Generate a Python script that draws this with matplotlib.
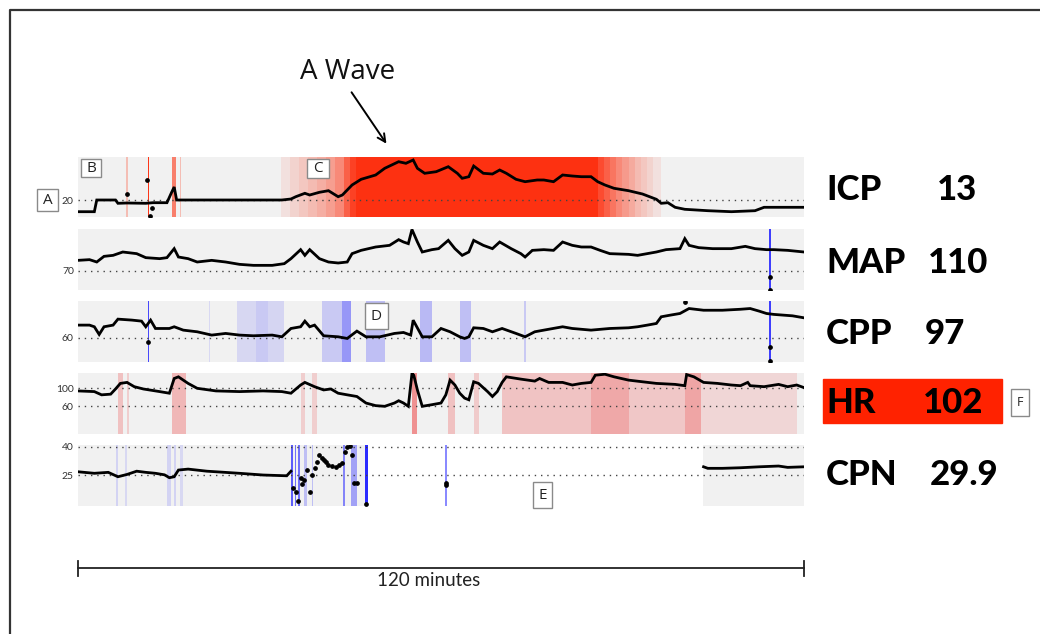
"""
Multi-channel neuro-monitoring strip chart (ICP, MAP, CPP, HR, CPN) over 120 minutes,
with red/blue alarm shading behind each trace and current values on the right.
"""

import matplotlib

matplotlib.use("Agg")

import matplotlib.pyplot as plt
from matplotlib.patches import Rectangle
from matplotlib.transforms import blended_transform_factory
import numpy as np

W, H = 1040, 634
GRAY = "#f1f1f1"
RED = "#ff2200"
HR_RED = "#ee3333"
BLUE = "#2b2bff"
LABEL_FONT = ["Lato", "DejaVu Sans"]

# ---- data (time in minutes, values in channel units) ----
ICP_T = [0, 2.7, 3.1, 6.2, 6.6, 8.1, 11.2, 12.4, 14.7, 15.5, 15.9, 16.3, 17.4, 33.7, 35.2,
         36.0, 37.5, 38.3, 39.9, 41.4, 43.0, 43.7, 45.3, 46.8, 49.2, 50.7, 53.0, 54.2, 55.4,
         56.1, 57.3, 59.2, 61.2, 62.7, 63.5, 64.6, 65.4, 67.0, 68.5, 69.7, 70.8, 72.4, 73.9,
         75.9, 77.0, 78.6, 80.1, 81.7, 83.2, 84.8, 85.9, 87.1, 88.6, 91.0, 93.3, 95.6, 96.4,
         97.5, 98.7, 100.3, 104.1, 108.0, 111.9, 113.4, 120]
ICP_V = [8.3, 8.3, 20, 20, 16.7, 17, 16.7, 17.3, 17.3, 28, 33, 20, 20, 20, 21,
         23.3, 26.7, 25, 27.7, 29.3, 23.3, 25, 35, 40.7, 45, 51.7, 58.3, 56.7, 60,
         51.7, 46.7, 48.3, 53.3, 46.7, 41.7, 43.3, 54, 46.7, 46, 50, 46.7, 40.7, 38.3,
         40, 40, 38.3, 45, 44, 43.3, 43.3, 38.3, 35, 31.7, 29.3, 26, 20.7, 16.7,
         17.3, 12.7, 10.7, 9.3, 8.3, 9.3, 12.7, 12.7]
ICP_OUT_T = [8.1, 11.4, 11.9, 12.2]
ICP_OUT_V = [25.7, 40, 3.8, 12]

MAP_T = [0, 1.9, 3.1, 4.3, 5.8, 7.4, 9.7, 11.2, 13.5, 14.7, 15.9, 16.6, 18.2, 19.7, 22.1,
         24.4, 26.7, 29.0, 32.1, 34.1, 35.2, 36.8, 37.5, 38.3, 39.9, 41.4, 43.0, 44.5, 45.3,
         46.8, 49.2, 51.5, 53.0, 53.8, 54.6, 55.2, 56.1, 56.9, 58.5, 59.6, 61.2, 62.3, 63.5,
         64.6, 65.4, 67.0, 68.5, 69.7, 71.6, 73.2, 73.9, 75.1, 77.0, 78.6, 80.1, 81.7, 83.2,
         84.8, 86.3, 87.9, 91.0, 92.5, 95.6, 97.2, 99.5, 100.3, 101.0, 102.6, 104.9, 108.0,
         110.3, 111.9, 113.8, 115.0, 117.3, 120]
MAP_V = [91.3, 92.7, 88, 99.3, 101.3, 108, 104.7, 96.7, 94.7, 96.7, 114.7, 98, 94.7, 88, 91.3,
         88, 83.3, 81.3, 81.3, 84.7, 94.7, 112.7, 101.3, 112.7, 94.7, 88, 86, 88, 104.7,
         111.3, 118, 121.3, 132.7, 128, 124.7, 153, 128, 108, 112.7, 114.7, 131.3, 114.7, 101.3,
         108, 131.3, 121.3, 114.7, 128, 114.7, 104.7, 98, 111.3, 112.7, 111.3, 128, 121.3, 118,
         118, 111.3, 104.7, 103.3, 101.3, 108, 112.7, 114.7, 134.7, 121.3, 116.7, 114.7, 114.7,
         119.3, 114.7, 112.7, 112.7, 111.3, 108]
MAP_OUT_T = [114.4, 114.4]
MAP_OUT_V = [58, 33]

CPP_T = [0, 1.9, 2.7, 3.5, 4.3, 5.8, 6.6, 8.9, 10.5, 11.2, 12.0, 12.8, 15.1, 15.9, 17.4,
         19.7, 22.1, 24.4, 26.7, 29.0, 32.1, 33.7, 35.2, 36.8, 37.5, 38.3, 39.1, 40.6, 43.0,
         44.5, 46.1, 47.6, 49.9, 52.3, 53.8, 55.0, 55.4, 56.9, 58.5, 60.0, 61.5, 63.1, 63.9,
         64.6, 65.4, 67.0, 68.5, 70.1, 72.4, 73.9, 75.5, 77.0, 80.1, 81.7, 84.8, 87.9, 91.0,
         92.5, 94.1, 95.6, 96.4, 97.9, 99.5, 101.0, 103.4, 106.5, 109.5, 111.1, 112.6, 113.8,
         115.0, 116.6, 118.1, 120]
CPP_V = [82.2, 82.2, 79.3, 65.8, 79.3, 82.2, 92.7, 91, 89.2, 79.3, 90.9, 76.3, 76.3, 79.3, 73.4,
         70.5, 64.7, 67.6, 64.7, 63.5, 64.7, 61.7, 76.3, 79.3, 89.2, 79.3, 82.2, 63.5, 61.7,
         58.8, 71.7, 61.7, 61.7, 67.6, 69.3, 64.7, 90.9, 61.7, 61.7, 76.3, 70.5, 61.7, 58.8,
         61.7, 77.5, 76.3, 70.5, 76.3, 67.6, 61.7, 70.5, 73.4, 79.3, 76.3, 73.4, 76.3, 77.5,
         79.3, 82.2, 85.1, 96.8, 99.7, 102.6, 111.3, 108.3, 108.3, 110, 111.3, 106.7, 102.6,
         101, 99.7, 98.5, 95]
CPP_OUT_T = [11.6, 100.3, 114.3, 114.3]
CPP_OUT_V = [53, 123, 44, 19]

HR_T = [0, 2.7, 3.9, 5.4, 6.2, 7.0, 8.1, 9.3, 10.8, 13.5, 15.1, 15.9, 16.6, 18.2, 19.7,
        22.8, 26.7, 30.6, 33.7, 35.2, 36.8, 37.5, 39.1, 40.6, 41.8, 43.0, 44.5, 46.1, 47.6,
        49.2, 50.7, 52.3, 53.0, 53.8, 54.6, 55.2, 55.5, 56.1, 56.9, 58.5, 60.0, 60.8, 61.5,
        62.3, 63.1, 63.9, 64.6, 65.4, 66.2, 67.7, 68.5, 69.3, 70.1, 70.8, 73.2, 75.5, 76.3,
        77.8, 80.1, 81.7, 83.2, 84.8, 85.5, 87.1, 88.6, 91.0, 93.3, 95.6, 98.7, 100.3, 100.6,
        101.8, 103.4, 105.7, 108.0, 109.5, 110.7, 111.1, 113.4, 115.8, 117.3, 118.8, 120]
HR_V = [94.2, 92.7, 85.5, 87, 98.5, 110.9, 113.1, 103.6, 98.5, 92.7, 89.1, 121.8, 125.5, 110.9, 100,
        94.2, 92.7, 94.2, 92.7, 89.1, 107.3, 113.1, 103.6, 96.4, 98.5, 89.1, 85.5, 81.8, 67.3,
        61.5, 60, 67.3, 72.4, 67.3, 60, 133, 129, 96.4, 60, 63.6, 67.3, 85.5, 118.2,
        107.3, 89.1, 78.2, 74.5, 114.5, 110.9, 92.7, 81.8, 92.7, 113.1, 125.5, 120.4, 116, 121.8,
        113.1, 113.1, 107.3, 110.9, 113.1, 129.1, 131.3, 125.5, 118.2, 114.5, 110.9, 108.7, 105.8, 130.5,
        125.5, 113.1, 110.9, 107.3, 105.8, 113.1, 105.8, 103.6, 108.7, 103.6, 107.3, 101.5]

CPN_T = [0, 2.7, 5.0, 6.6, 8.1, 9.7, 11.2, 12.8, 14.3, 15.1, 15.9, 16.6, 18.2, 21.3, 22.8,
         26.7, 30.6, 34.5, 35.2, 75.0,
         103.4, 104.1, 106.5, 109.5, 112.6, 115.8, 117.3, 120]
CPN_V = [26.9, 26.1, 26.6, 24.3, 25.5, 27.2, 26.6, 26.1, 25.3, 23.8, 24.3, 27.8, 28.3, 27.2, 26.9,
         26.1, 25.2, 24.8, 27.2, np.nan,
         29.5, 28.7, 28.7, 29, 29.5, 29.9, 29.2, 29.5]
# erratic stretch drawn as loose dots
CPN_OUT_T = [35.6, 36.0, 36.4, 36.8, 37.1, 37.4, 37.9, 38.3, 38.7, 39.1, 39.5, 39.9, 40.3,
             40.6, 41.0, 41.4, 42.0, 42.6, 43.2, 43.7, 44.1, 44.5, 44.9, 45.3, 45.7, 46.1,
             47.6, 60.8, 60.8]
CPN_OUT_V = [18.5, 16.5, 11.5, 23.6, 20.5, 22.7, 27.8, 16.5, 25.3, 28.7, 32.2, 35.6, 34.0,
             32.9, 31.8, 30.4, 29.8, 29.5, 30.2, 31.3, 37.4, 40, 40.5, 35.6, 20.8, 20.8,
             9.8, 20.0, 21.2]
CPN_RECORDED = [(0, 47.8), (103.3, 120)]

# alarm shading: (start min, end min, strength)
ICP_SHADE = [(8.0, 8.3, 0.25), (11.5, 11.8, 0.9), (15.5, 16.2, 0.55), (16.9, 17.1, 0.25),
             (33.5, 35.0, 0.08), (35.0, 36.5, 0.14), (36.5, 38.0, 0.2), (38.0, 39.5, 0.26),
             (39.5, 41.0, 0.32), (41.0, 42.5, 0.4), (42.5, 44.0, 0.5), (44.0, 45.0, 0.7),
             (45.0, 46.0, 0.85), (46.0, 86.0, 0.93), (86.0, 87.0, 0.8), (87.0, 88.0, 0.7),
             (88.0, 89.0, 0.6), (89.0, 90.0, 0.5), (90.0, 91.0, 0.42), (91.0, 92.0, 0.34),
             (92.0, 93.0, 0.26), (93.0, 94.0, 0.2), (94.0, 95.0, 0.14), (95.0, 96.3, 0.08)]
MAP_SHADE = [(114.2, 114.6, 0.9)]
CPP_SHADE = [(11.5, 11.8, 0.85), (21.6, 21.9, 0.12), (26.3, 29.4, 0.13), (29.4, 31.4, 0.2),
             (31.4, 34.1, 0.14), (40.3, 43.7, 0.2), (43.7, 45.1, 0.45), (47.6, 50.7, 0.25),
             (56.5, 58.5, 0.28), (63.1, 65.0, 0.25), (73.8, 74.1, 0.2), (114.2, 114.5, 0.9)]
HR_SHADE = [(6.6, 7.4, 0.25), (8.1, 8.5, 0.18), (15.5, 17.8, 0.3), (36.8, 37.5, 0.18),
            (38.7, 39.5, 0.18), (55.2, 56.1, 0.5), (61.2, 62.3, 0.25), (65.4, 66.2, 0.2),
            (70.1, 84.8, 0.24), (84.8, 91.0, 0.38), (91.0, 100.3, 0.22), (100.3, 103.0, 0.4),
            (103.0, 118.8, 0.14)]
CPN_SHADE = [(6.2, 6.6, 0.15), (7.7, 8.1, 0.12), (14.7, 15.3, 0.15), (15.8, 16.2, 0.15),
             (16.8, 17.3, 0.12), (35.2, 35.5, 0.75), (35.8, 36.0, 0.65), (36.4, 36.7, 0.65),
             (37.3, 37.9, 0.25), (38.6, 38.8, 0.25), (43.8, 44.1, 0.55), (45.2, 46.1, 0.4),
             (47.4, 47.9, 1.0), (60.6, 61.0, 0.55)]

CHANNELS = ["ICP", "MAP", "CPP", "HR", "CPN"]
CURRENT = ["13", "110", "97", "102", "29.9"]


def _px(x0, y0, x1, y1):
    """pixel box (top-left origin) -> figure fraction rect"""
    return [x0 / W, 1 - y1 / H, (x1 - x0) / W, (y1 - y0) / H]


def _panel(fig, rect, t, v, out_t, out_v, ylim, refs, shade, shade_color, recorded=None):
    ax = fig.add_axes(rect)
    ax.set_xlim(0, 120)
    ax.set_ylim(*ylim)
    if recorded is None:
        ax.set_facecolor(GRAY)
    else:
        ax.set_facecolor("white")
        for a, b in recorded:
            ax.axvspan(a, b, color=GRAY, lw=0, zorder=0)
    for a, b, s in shade:
        ax.axvspan(a, b, color=shade_color, alpha=s, lw=0, zorder=1)
    for r in refs:
        ax.axhline(r, color="#444444", lw=1.0, ls=(0, (1, 3.5)), zorder=2)
    ax.plot(t, v, color="black", lw=2.0, solid_joinstyle="miter", zorder=3)
    ax.plot(out_t, out_v, ls="none", marker="o", ms=2.4, color="black", zorder=3)
    for s in ax.spines.values():
        s.set_visible(False)
    ax.set_xticks([])
    ax.set_yticks(refs)
    ax.set_yticklabels([str(r) for r in refs])
    ax.tick_params(axis="y", length=0, pad=3, labelsize=7.5, labelcolor="#333333")
    for lab in ax.get_yticklabels():
        lab.set_family(LABEL_FONT)
    return ax


def _letter_box(ov, x0, y0, x1, y1, letter, size=11):
    ov.add_patch(Rectangle((x0, y0), x1 - x0, y1 - y0, facecolor="white",
                           edgecolor="#8a8a8a", lw=1.0, zorder=5))
    ov.text((x0 + x1) / 2, (y0 + y1) / 2 + 0.5, letter, ha="center", va="center",
            fontsize=size, family=["Open Sans", "DejaVu Sans"], color="#222222", zorder=6)


def main():
    fig = plt.figure(figsize=(W / 100, H / 100), dpi=100)

    rows = [(157, 217), (229, 290), (301, 362), (373, 434), (445, 506)]
    _panel(fig, _px(78, rows[0][0], 804, rows[0][1]),
           ICP_T, ICP_V, ICP_OUT_T, ICP_OUT_V, (3, 63), [20], ICP_SHADE, RED)
    _panel(fig, _px(78, rows[1][0], 804, rows[1][1]),
           MAP_T, MAP_V, MAP_OUT_T, MAP_OUT_V, (32, 154), [70], MAP_SHADE, BLUE)
    _panel(fig, _px(78, rows[2][0], 804, rows[2][1]),
           CPP_T, CPP_V, CPP_OUT_T, CPP_OUT_V, (17.5, 124.5), [60], CPP_SHADE, BLUE)
    _panel(fig, _px(78, rows[3][0], 804, rows[3][1]),
           HR_T, HR_V, [], [], (-1.5, 134), [100, 60], HR_SHADE, HR_RED)
    ax_cpn = _panel(fig, _px(78, rows[4][0], 804, rows[4][1]),
                    CPN_T, CPN_V, CPN_OUT_T, CPN_OUT_V, (9, 40.9), [40, 25], CPN_SHADE, BLUE,
                    recorded=CPN_RECORDED)

    # overlay in pixel coordinates for annotations
    ov = fig.add_axes([0, 0, 1, 1], zorder=10)
    ov.set_xlim(0, W)
    ov.set_ylim(H, 0)
    ov.axis("off")
    ov.patch.set_alpha(0)

    # outer frame (cut by the image edge on the right/bottom)
    ov.plot([10, 10, W + 10], [H + 10, 10, 10], color="#333333", lw=1.6, clip_on=False)

    # A wave annotation
    ov.text(348, 72, "A Wave", ha="center", va="center", fontsize=20,
            family=["Open Sans", "DejaVu Sans"], color="#111111")
    ov.annotate("", xy=(388, 146), xytext=(350, 90),
                arrowprops=dict(arrowstyle="->", lw=1.4, color="black", mutation_scale=14))

    # lettered callouts
    _letter_box(ov, 37, 189, 58, 211, "A")
    _letter_box(ov, 81, 159, 101, 177, "B")
    _letter_box(ov, 307, 159, 329, 178, "C")
    _letter_box(ov, 365, 303, 388, 329, "D")
    _letter_box(ov, 533, 482, 552, 508, "E")
    _letter_box(ov, 1011, 389, 1029, 416, "F", size=9)

    # current values on the right
    ov.add_patch(Rectangle((823, 379), 179, 44, color=RED, zorder=4))
    name_y = [190, 263, 334, 403, 475]
    val_x = [937, 928, 925, 923, 930]
    for name, val, y, vx in zip(CHANNELS, CURRENT, name_y, val_x):
        ov.text(826, y, name, ha="left", va="center", fontsize=25, fontweight="black",
                family=LABEL_FONT, color="black", zorder=6)
        ov.text(vx, y, val, ha="left", va="center", fontsize=25, fontweight="black",
                family=LABEL_FONT, color="black", zorder=6)

    # 120 minute scale bar, tied to the time axis
    trans = blended_transform_factory(ax_cpn.transData, ov.transData)
    ov.plot([0, 120], [568, 568], color="#222222", lw=1.3, transform=trans, clip_on=False)
    for x in (0, 120):
        ov.plot([x, x], [561, 576], color="#222222", lw=1.3, transform=trans, clip_on=False)
    ov.text(58, 581, "120 minutes", ha="center", va="center", fontsize=13.5,
            family=LABEL_FONT, color="#222222", transform=trans)

    fig.savefig("out.png", dpi=100)
    plt.close(fig)


if __name__ == "__main__":
    main()
